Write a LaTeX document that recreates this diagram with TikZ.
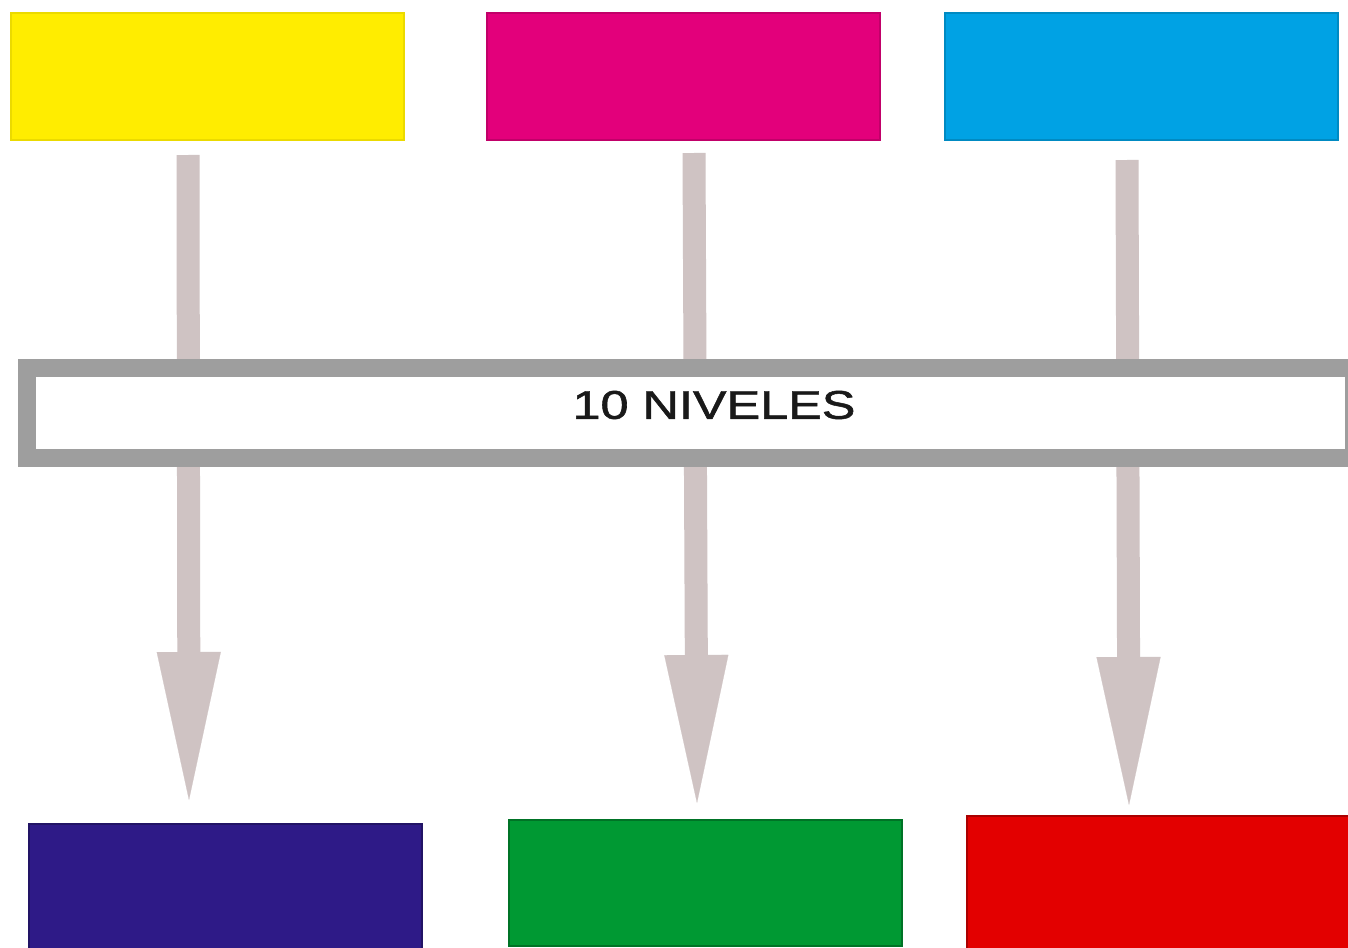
\documentclass[tikz,border=0pt]{standalone}
\usepackage{fontspec}
\setmainfont{Liberation Sans}
\usetikzlibrary{arrows.meta}
\definecolor{cyel}{HTML}{FFED00}
\definecolor{cmag}{HTML}{E3007B}
\definecolor{ccya}{HTML}{00A2E4}
\definecolor{cnav}{HTML}{2E1A87}
\definecolor{cgre}{HTML}{009933}
\definecolor{cred}{HTML}{E30000}
\definecolor{carr}{HTML}{CFC3C3}
\definecolor{cbar}{HTML}{9E9E9E}
\newfontfamily\labelfont[FakeBold=1.2]{Liberation Sans}
\tikzset{
  colbox/.style={rectangle, inner sep=0pt, minimum width=196.5pt, minimum height=63.5pt, line width=1pt},
  flowarrow/.style={draw=carr, line width=11.5pt,
    -{Triangle[width=32pt,length=74pt,line width=0.1pt,fill=carr,color=carr]}},
  levelbar/.style={rectangle, draw=cbar, fill=white, line width=9pt, inner sep=0pt,
    minimum width=663.5pt, minimum height=45pt},
  barlabel/.style={inner sep=0pt, font=\labelfont\fontsize{20pt}{24pt}\selectfont, text=black!90}
}
\begin{document}
\begin{tikzpicture}[x=0.5pt,y=-0.5pt]
\useasboundingbox (0,0) rectangle (1348,947);
\clip (0,0) rectangle (1348,947);
\fill[white] (0,0) rectangle (1348,947);
% top boxes
\node[colbox, fill=cyel, draw=cyel!92!black] (yel) at (207.5,76.5) {};
\node[colbox, fill=cmag, draw=cmag!85!black] (mag) at (683.5,76.5) {};
\node[colbox, fill=ccya, draw=ccya!85!black] (cya) at (1141.5,76.5) {};
% bottom boxes
\node[colbox, minimum height=66pt, fill=cnav, draw=cnav!75!black] (nav) at (225.5,890) {};
\node[colbox, minimum height=63pt, fill=cgre, draw=cgre!75!black] (gre) at (705.5,883) {};
\node[colbox, minimum width=192.5pt, minimum height=70pt, fill=cred, draw=cred!75!black] (red) at (1159.5,886) {};
% arrow ends
\coordinate (s1) at (188,155);
\coordinate (e1) at (189,800);
\coordinate (s2) at (694,153);
\coordinate (e2) at (697,803);
\coordinate (s3) at (1127,160);
\coordinate (e3) at (1129,805);
\draw[flowarrow] (s1) -- (e1);
\draw[flowarrow] (s2) -- (e2);
\draw[flowarrow] (s3) -- (e3);
% level bar
\node[levelbar] (bar) at (690.5,413) {};
\node[barlabel] (lbl) at (714,405) {\scalebox{1.26}[1]{10 NIVELES}};
\end{tikzpicture}
\end{document}
